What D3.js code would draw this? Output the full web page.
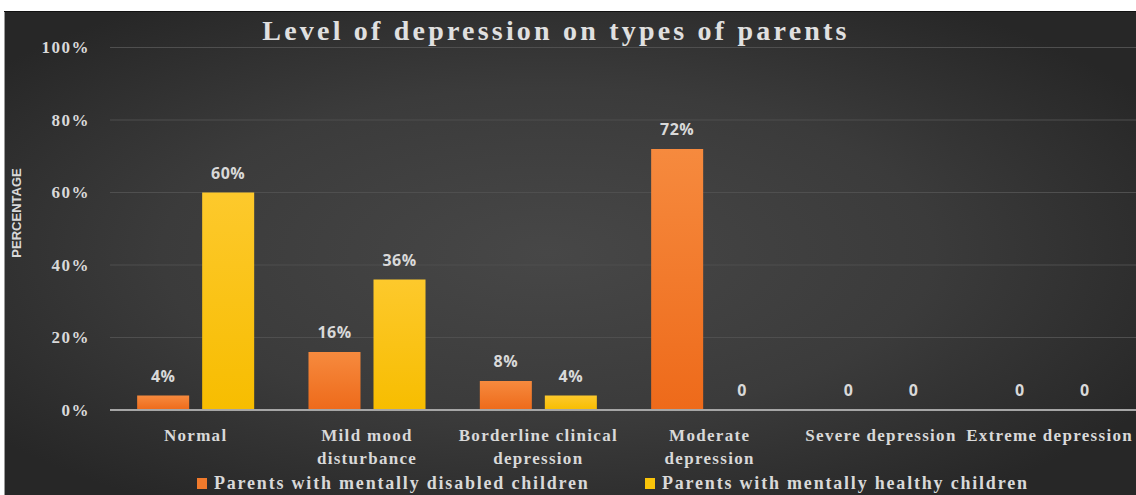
<!DOCTYPE html>
<html>
<head>
<meta charset="utf-8">
<script src="https://cdn.jsdelivr.net/npm/d3@7"></script>
<style>
  html, body { margin: 0; padding: 0; background: #ffffff; }
  svg { display: block; }
</style>
</head>
<body>
<svg id="chart" width="1136" height="495"></svg>
<script>
// Depression level by parent group
const categories = [
  ["Normal"],
  ["Mild mood", "disturbance"],
  ["Borderline clinical", "depression"],
  ["Moderate", "depression"],
  ["Severe depression"],
  ["Extreme depression"]
];
const seriesNames = [
  "Parents with mentally disabled children",
  "Parents with mentally healthy children"
];
const disabledValues = [4, 16, 8, 72, 0, 0];
const healthyValues = [60, 36, 4, 0, 0, 0];
const yTicks = [0, 20, 40, 60, 80, 100];

const svg = d3.select("#chart");
const W = 1136, H = 495;
const plotLeft = 110, plotRight = 1138, plotTop = 47.5, plotBottom = 410;

const defs = svg.append("defs");
const bg = defs.append("radialGradient").attr("id", "bgGrad")
  .attr("cx", "48%").attr("cy", "50%").attr("r", "62%");
bg.append("stop").attr("offset", "0%").attr("stop-color", "#474747");
bg.append("stop").attr("offset", "55%").attr("stop-color", "#3b3b3b");
bg.append("stop").attr("offset", "100%").attr("stop-color", "#272727");

const gOrange = defs.append("linearGradient").attr("id", "gOrange")
  .attr("x1", 0).attr("y1", 0).attr("x2", 0).attr("y2", 1);
gOrange.append("stop").attr("offset", "0%").attr("stop-color", "#f68a3e");
gOrange.append("stop").attr("offset", "100%").attr("stop-color", "#ee6a1a");
const gYellow = defs.append("linearGradient").attr("id", "gYellow")
  .attr("x1", 0).attr("y1", 0).attr("x2", 0).attr("y2", 1);
gYellow.append("stop").attr("offset", "0%").attr("stop-color", "#fdc92c");
gYellow.append("stop").attr("offset", "100%").attr("stop-color", "#f7bd00");
const fills = ["url(#gOrange)", "url(#gYellow)"];
const swatch = ["#f07a2c", "#f9c40a"];

// Chart area background with frame
svg.append("rect").attr("x", 4).attr("y", 11).attr("width", W - 4).attr("height", H - 11)
  .attr("fill", "url(#bgGrad)");
svg.append("line").attr("x1", 4.5).attr("x2", 4.5).attr("y1", 11).attr("y2", H)
  .attr("stroke", "#9a9a9a").attr("stroke-width", 1);
svg.append("line").attr("x1", 4).attr("x2", W).attr("y1", 11.5).attr("y2", 11.5)
  .attr("stroke", "#111111").attr("stroke-width", 1);

const x0 = d3.scaleBand().domain(d3.range(categories.length))
  .range([plotLeft, plotRight]).paddingInner(0.317).paddingOuter(0.1585);
const x1 = d3.scaleBand().domain([0, 1]).range([0, x0.bandwidth()]).paddingInner(0.2);
const y = d3.scaleLinear().domain([0, 100]).range([plotBottom, plotTop]);

const serif = "'Liberation Serif', 'DejaVu Serif', serif";
const labelColor = "#d9d9d9";

// Gridlines
svg.append("g").selectAll("line").data(yTicks.filter(t => t > 0)).join("line")
  .attr("x1", plotLeft).attr("x2", W)
  .attr("y1", d => y(d)).attr("y2", d => y(d))
  .attr("stroke", "#4f4f4f").attr("stroke-width", 1);

// Y axis tick labels
const yAxis = d3.axisLeft(y).tickValues(yTicks).tickFormat(d => d + "%").tickSize(0).tickPadding(20);
svg.append("g").attr("transform", `translate(${plotLeft},0)`).call(yAxis)
  .call(a => a.select(".domain").remove())
  .selectAll("text")
  .attr("fill", labelColor)
  .style("font-family", serif)
  .style("font-weight", "bold")
  .style("font-size", "17px")
  .style("letter-spacing", "1.5px");

// Bars and value labels
const series = [disabledValues, healthyValues];
categories.forEach((c, i) => {
  series.forEach((vals, s) => {
    const v = vals[i];
    const bx = x0(i) + x1(s);
    if (v > 0) {
      svg.append("rect")
        .attr("x", bx).attr("y", y(v))
        .attr("width", x1.bandwidth()).attr("height", y(0) - y(v))
        .attr("fill", fills[s]);
    }
    svg.append("text")
      .attr("x", bx + x1.bandwidth() / 2)
      .attr("y", y(v) - 14)
      .attr("text-anchor", "middle")
      .attr("fill", labelColor)
      .style("font-family", "'Open Sans', 'DejaVu Sans', sans-serif")
      .style("font-weight", "bold")
      .style("font-size", "16px")
      .style("letter-spacing", "0.5px")
      .text(v > 0 ? v + "%" : "0");
  });
});

// Baseline
svg.append("line").attr("x1", plotLeft).attr("x2", W)
  .attr("y1", y(0)).attr("y2", y(0))
  .attr("stroke", "#a6a6a6").attr("stroke-width", 2);

// Category labels
const xAxis = d3.axisBottom(x0).tickSize(0).tickFormat(() => "");
const xg = svg.append("g").attr("transform", `translate(0,${plotBottom})`).call(xAxis);
xg.select(".domain").remove();
xg.selectAll(".tick").each(function(d) {
  const t = d3.select(this).append("text")
    .attr("y", 31)
    .attr("text-anchor", "middle")
    .attr("fill", labelColor)
    .style("font-family", serif)
    .style("font-weight", "bold")
    .style("font-size", "17px")
    .style("letter-spacing", "1.3px");
  categories[d].forEach((line, k) => {
    t.append("tspan").attr("x", 0).attr("dy", k === 0 ? 0 : 23).text(line);
  });
  // keep labels inside the chart frame
  const tx = x0(d) + x0.bandwidth() / 2;
  const bb = t.node().getBBox();
  const overflow = tx + bb.x + bb.width - (W - 3);
  if (overflow > 0) t.attr("transform", `translate(${-overflow},0)`);
});

// Title
svg.append("text")
  .attr("x", 556).attr("y", 40)
  .attr("text-anchor", "middle")
  .attr("fill", "#e0e0e0")
  .style("font-family", serif)
  .style("font-weight", "bold")
  .style("font-size", "28px")
  .style("letter-spacing", "3.2px")
  .text("Level of depression on types of parents");

// Y axis title
svg.append("text")
  .attr("transform", `translate(21,213) rotate(-90)`)
  .attr("text-anchor", "middle")
  .attr("fill", labelColor)
  .style("font-family", "'Liberation Sans Narrow', 'Liberation Sans', Arial, sans-serif")
  .style("font-weight", "bold")
  .style("font-size", "13px")
  .text("PERCENTAGE");

// Legend
const legendX = [197, 645];
seriesNames.forEach((name, s) => {
  const lg = svg.append("g").attr("transform", `translate(${legendX[s]},489)`);
  lg.append("rect").attr("x", 0).attr("y", -11).attr("width", 10).attr("height", 11)
    .attr("fill", swatch[s]);
  lg.append("text").attr("x", 17).attr("y", 0)
    .attr("fill", labelColor)
    .style("font-family", serif)
    .style("font-weight", "bold")
    .style("font-size", "18px")
    .style("letter-spacing", "1.8px")
    .text(name);
});
</script>
</body>
</html>
